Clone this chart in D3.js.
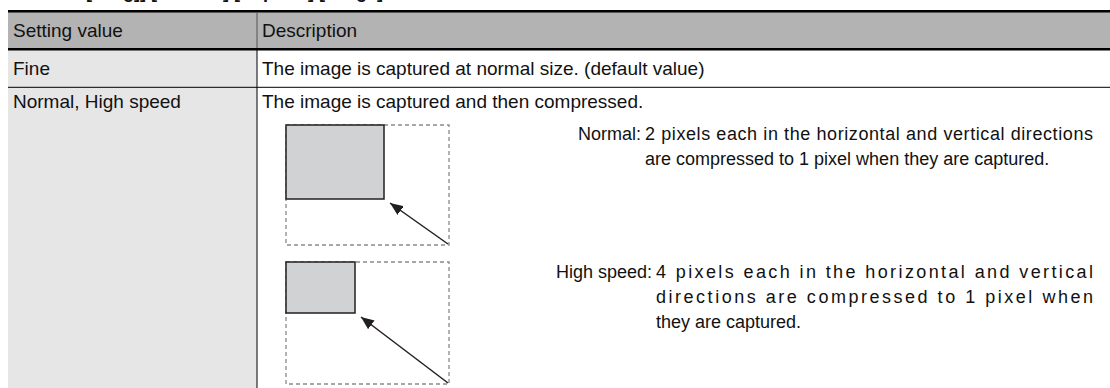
<!DOCTYPE html>
<html><head><meta charset="utf-8">
<script src="https://cdn.jsdelivr.net/npm/d3@7"></script>
<style>
html,body{margin:0;padding:0;background:#fff;overflow:hidden}
svg{display:block;font-family:"Liberation Sans",Arial,sans-serif}
</style></head>
<body><svg id="c" width="1110" height="388"></svg>
<script>
const headers = ["Setting value", "Description"];
const settings = ["Fine", "Normal, High speed"];
const descriptions = ["The image is captured at normal size. (default value)", "The image is captured and then compressed."];
const modes = ["Normal:", "High speed:"];
const modeLines = [
  ["2 pixels each in the horizontal and vertical directions", "are compressed to 1 pixel when they are captured."],
  ["4 pixels each in the horizontal and vertical", "directions are compressed to 1 pixel when", "they are captured."]
];
const titleFragment = "[Imag]] [Camera] [Capture] [Image]";

const svg = d3.select("#c");
const W = 1110;
const x0 = 8, xDiv = 257;
const rowY = d3.scaleOrdinal().domain(["head","r1","r2","end"]).range([12, 50, 88, 388]);

// clipped title (only its lower edge shows)
svg.append("text").attr("x", 86).attr("y", -2.5).attr("font-weight", "bold").attr("font-size", 18).attr("fill", "#111").text(titleFragment);

// header bg
svg.append("rect").attr("x", x0).attr("y", rowY("head")).attr("width", W - x0).attr("height", rowY("r1") - rowY("head")).attr("fill", "#b3b3b3");
// first col bg
svg.append("rect").attr("x", x0).attr("y", rowY("r1")).attr("width", xDiv - x0).attr("height", rowY("end") - rowY("r1")).attr("fill", "#e6e6e6");
// borders
svg.append("rect").attr("x", x0).attr("y", 10).attr("width", W - x0).attr("height", 2.5).attr("fill", "#000");
svg.append("rect").attr("x", x0).attr("y", 48).attr("width", W - x0).attr("height", 2.5).attr("fill", "#000");
svg.append("rect").attr("x", x0).attr("y", 86.8).attr("width", W - x0).attr("height", 1).attr("fill", "#000");
svg.append("rect").attr("x", xDiv - 0.5).attr("y", 12).attr("width", 1).attr("height", 36).attr("fill", "#555");
svg.append("rect").attr("x", xDiv - 0.5).attr("y", 50).attr("width", 1).attr("height", 338).attr("fill", "#000");

const fs = 19;
svg.selectAll("text.h").data(headers).join("text").attr("class", "h")
  .attr("x", (d, i) => i ? 262 : 13).attr("y", 37).attr("font-size", fs).attr("fill", "#111").text(d => d);
svg.selectAll("text.s").data(settings).join("text").attr("class", "s")
  .attr("x", 13).attr("y", (d, i) => [75, 108][i]).attr("font-size", fs).attr("fill", "#111").text(d => d);
svg.selectAll("text.d").data(descriptions).join("text").attr("class", "d")
  .attr("x", 262).attr("y", (d, i) => [75, 108][i]).attr("font-size", fs).attr("fill", "#111").text(d => d);

// diagrams
const boxes = [{x: 286, y: 125, w: 163, h: 120}, {x: 286, y: 262, w: 163, h: 122}];
const inner = [{w: 98, h: 74}, {w: 69, h: 51}];
const defs = svg.append("defs");
defs.append("marker").attr("id", "ah").attr("viewBox", "0 0 12 10").attr("refX", 12).attr("refY", 5)
  .attr("markerWidth", 13).attr("markerHeight", 11).attr("markerUnits", "userSpaceOnUse").attr("orient", "auto")
  .append("path").attr("d", "M12,5 L0,0 L0,10 Z").attr("fill", "#231f20");
boxes.forEach((b, i) => {
  svg.append("rect").attr("x", b.x).attr("y", b.y).attr("width", b.w).attr("height", b.h)
    .attr("fill", "none").attr("stroke", "#8a8a8a").attr("stroke-width", 1.3).attr("stroke-dasharray", "4,3");
  const iw = inner[i].w, ih = inner[i].h;
  svg.append("rect").attr("x", b.x).attr("y", b.y).attr("width", iw).attr("height", ih)
    .attr("fill", "#d1d2d4").attr("stroke", "#231f20").attr("stroke-width", 1.5);
  svg.append("line").attr("x1", b.x + b.w - 1).attr("y1", b.y + b.h - 1)
    .attr("x2", b.x + iw + 6).attr("y2", b.y + ih + 4)
    .attr("stroke", "#231f20").attr("stroke-width", 1.5).attr("marker-end", "url(#ah)");
});

// mode descriptions
const mfs = 18;
const labelEnd = [641, 652], textX = [645, 656], baseY = [140, 278];
const justifyEnd = [[1093, null], [1093, 1093, null]];
const lh = 25;
modes.forEach((m, i) => {
  svg.append("text").attr("x", labelEnd[i]).attr("y", baseY[i]).attr("text-anchor", "end")
    .attr("font-size", mfs).attr("fill", "#111").text(m);
  modeLines[i].forEach((l, j) => {
    const t = svg.append("text").attr("x", textX[i]).attr("y", baseY[i] + j * lh).attr("font-size", mfs).attr("fill", "#111").text(l);
    const end = justifyEnd[i][j];
    if (end) {
      const natural = t.node().getComputedTextLength();
      const target = end - textX[i];
      t.attr("textLength", target).attr("lengthAdjust", target >= natural ? "spacing" : "spacingAndGlyphs");
    }
  });
});
</script></body></html>
